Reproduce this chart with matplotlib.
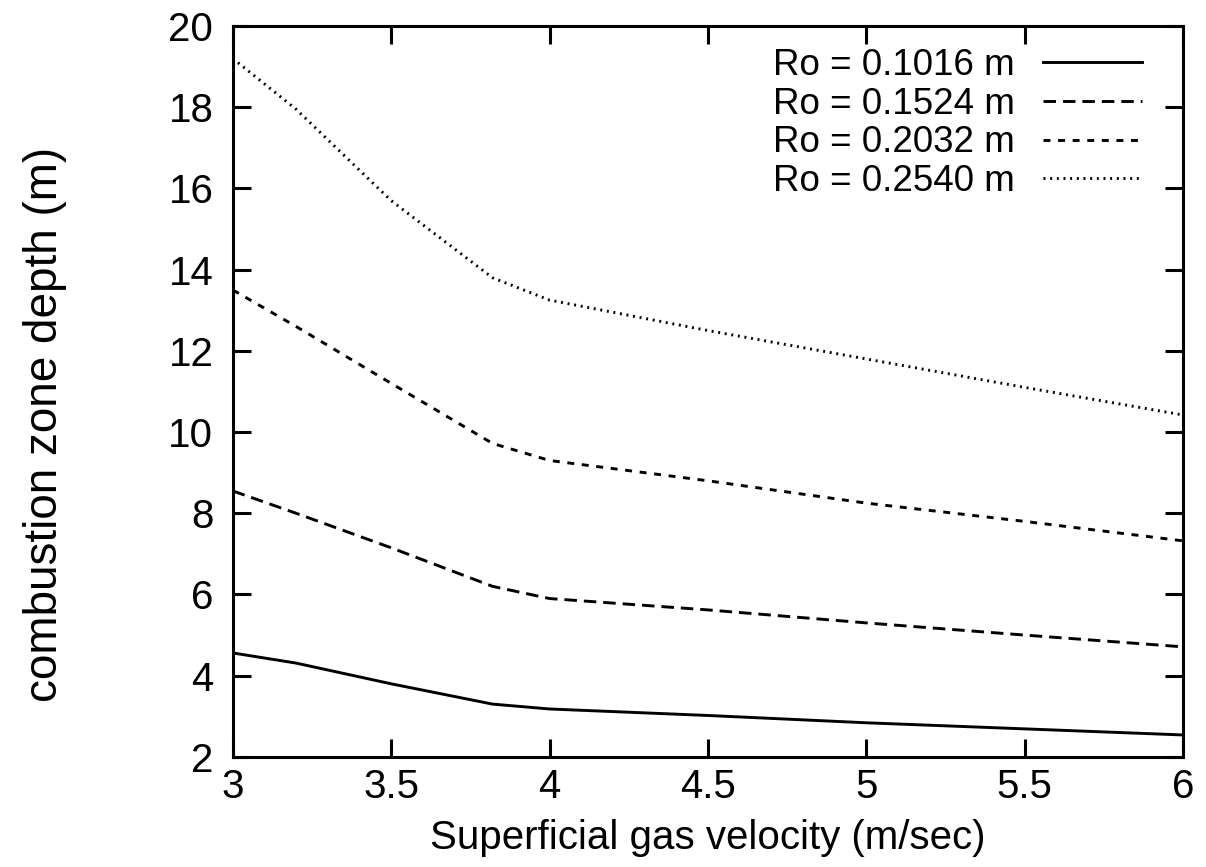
import matplotlib
matplotlib.use("Agg")
import matplotlib.pyplot as plt

# Superficial gas velocity (m/sec)
velocity = [3.0, 3.2, 3.5, 3.82, 4.0, 4.5, 5.0, 5.5, 6.0]

# Combustion zone depth (m) for each bed radius Ro
depth_r1016 = [4.56, 4.31, 3.80, 3.30, 3.18, 3.02, 2.84, 2.69, 2.54]
depth_r1524 = [8.55, 8.00, 7.15, 6.20, 5.90, 5.62, 5.30, 5.00, 4.71]
depth_r2032 = [13.5, 12.6, 11.2, 9.72, 9.30, 8.80, 8.25, 7.80, 7.32]
depth_r2540 = [19.2, 17.95, 15.7, 13.8, 13.25, 12.5, 11.8, 11.1, 10.42]

labels = ["Ro = 0.1016 m", "Ro = 0.1524 m", "Ro = 0.2032 m", "Ro = 0.2540 m"]
xticks = [3, 3.5, 4, 4.5, 5, 5.5, 6]
xtick_labels = ["3", "3.5", "4", "4.5", "5", "5.5", "6"]
yticks = [2, 4, 6, 8, 10, 12, 14, 16, 18, 20]

plt.rcParams["font.family"] = ["Liberation Sans", "DejaVu Sans"]
plt.rcParams["lines.scale_dashes"] = False

fig = plt.figure(figsize=(12.06, 8.67), dpi=100)
ax = fig.add_axes([0.193, 0.127, 0.788, 0.843])

series = [depth_r1016, depth_r1524, depth_r2032, depth_r2540]
styles = ["-", (0, (9, 5)), (0, (5, 5.5)), (0, (1.4, 3.4))]
for ys, ls, lab in zip(series, styles, labels):
    ax.plot(velocity, ys, color="black", lw=2.1, linestyle=ls, label=lab)

ax.set_xlim(3, 6)
ax.set_ylim(2, 20)
ax.set_xticks(xticks)
ax.set_xticklabels(xtick_labels)
ax.set_yticks(yticks)

ax.tick_params(direction="in", length=13, width=2.2, labelsize=29,
               top=True, right=True, colors="black")
ax.tick_params(axis="x", pad=8)
ax.tick_params(axis="y", pad=14)
for sp in ax.spines.values():
    sp.set_linewidth(2.2)

ax.set_xlabel("Superficial gas velocity (m/sec)", fontsize=29, labelpad=9)
fig.text(0.037, 0.51, "combustion zone depth (m)", fontsize=33,
         rotation=90, ha="center", va="center")

leg = ax.legend(loc="upper right", frameon=False, fontsize=26.5,
                markerfirst=False, handlelength=2.7, handletextpad=0.75,
                labelspacing=0.1, borderaxespad=0.2,
                bbox_to_anchor=(0.98, 1.0))

fig.savefig("out.png", dpi=100, facecolor="white")
